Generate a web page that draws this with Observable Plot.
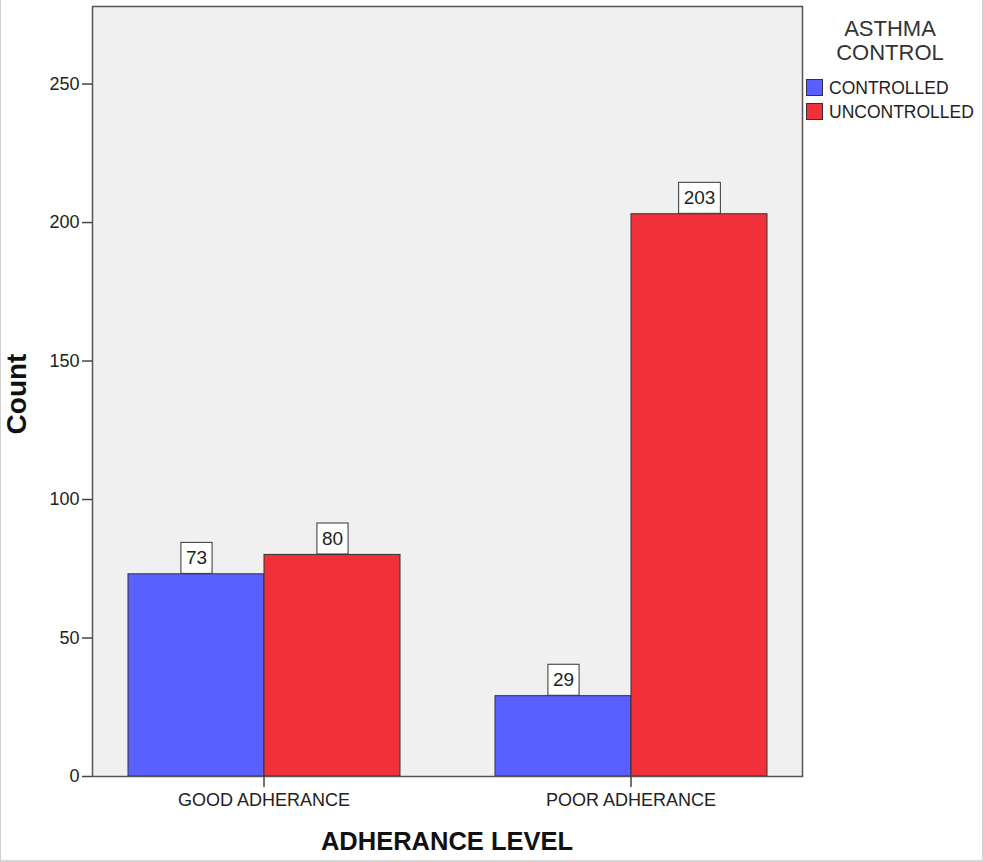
<!DOCTYPE html>
<html>
<head>
<meta charset="utf-8">
<script src="https://cdn.jsdelivr.net/npm/d3@7"></script>
<script src="https://cdn.jsdelivr.net/npm/@observablehq/plot@0.6"></script>
<style>
  html, body { margin: 0; padding: 0; background: #fff; overflow: hidden; }
  #wrap { position: relative; width: 983px; height: 862px; font-family: "Liberation Sans", Arial, sans-serif; color: #222; }
  #wrap svg { display: block; }
  .abs { position: absolute; white-space: nowrap; }
  #border { position: absolute; left: 0; top: 0; width: 983px; height: 862px; box-sizing: border-box;
            border-left: 1px solid #cfcfcf; border-right: 1px solid #cfcfcf; border-bottom: 2px solid #d6d6d6; pointer-events: none; }
</style>
</head>
<body>
<div id="wrap"></div>
<script>
// ---- data ----
const groups = ["GOOD ADHERANCE", "POOR ADHERANCE"];
const series = ["CONTROLLED", "UNCONTROLLED"];
const controlled = [73, 29];
const uncontrolled = [80, 203];
const colors = ["#5a5fff", "#f0313a"];
const yTicks = [0, 50, 100, 150, 200, 250];
const legendTitle = ["ASTHMA", "CONTROL"];
const xTitle = "ADHERANCE LEVEL";
const yTitle = "Count";

const data = groups.flatMap((g, i) => [
  {group: g, status: series[0], count: controlled[i]},
  {group: g, status: series[1], count: uncontrolled[i]}
]);

const chart = Plot.plot({
  width: 983,
  height: 862,
  marginLeft: 92,
  marginTop: 6,
  marginRight: 181,
  marginBottom: 86,
  style: {fontFamily: "'Liberation Sans', Arial, sans-serif", fontSize: "18px", color: "#222", background: "transparent"},
  fx: {domain: groups, paddingInner: 0.0654, paddingOuter: 0, label: null, axis: null},
  x: {domain: series, paddingInner: 0, paddingOuter: 0.2564, axis: null},
  y: {domain: [0, 278], axis: null},
  color: {domain: series, range: colors},
  marks: [
    Plot.frame({fill: "#f0f0f0", facet: "super"}),
    Plot.barY(data, {fx: "group", x: "status", y: "count", fill: "status", stroke: "#333", strokeWidth: 1}),
    Plot.frame({stroke: "#555", strokeWidth: 1.5, facet: "super"}),
    Plot.axisY({ticks: yTicks, tickSize: 10, tickPadding: 3, label: null, fontSize: 18, stroke: "#444", strokeWidth: 1.5}),
    Plot.axisFx({anchor: "bottom", tickSize: 11, tickPadding: 6, label: null, fontSize: 18, stroke: "#444", strokeWidth: 1.5}),
    Plot.text(data, {fx: "group", x: "status", y: "count", text: d => String(d.count), dy: -16, lineAnchor: "middle", fontSize: 19, fill: "#222"})
  ]
});

const wrap = document.getElementById("wrap");
wrap.appendChild(chart);

// white boxes behind the value labels
const svg = d3.select(chart);
svg.selectAll('g[aria-label="text"] text').each(function() {
  const bb = this.getBBox();
  const h = 31;
  const rect = document.createElementNS("http://www.w3.org/2000/svg", "rect");
  rect.setAttribute("x", bb.x - 5);
  rect.setAttribute("y", bb.y + bb.height / 2 - h / 2);
  rect.setAttribute("width", bb.width + 10);
  rect.setAttribute("height", h);
  rect.setAttribute("fill", "#fff");
  rect.setAttribute("stroke", "#333");
  rect.setAttribute("stroke-width", "1");
  const tr = this.getAttribute("transform");
  if (tr) rect.setAttribute("transform", tr);
  this.parentNode.insertBefore(rect, this);
});

// axis titles
const yt = document.createElement("div");
yt.className = "abs";
yt.textContent = yTitle;
Object.assign(yt.style, {left: "17px", top: "394px", transform: "translate(-50%,-50%) rotate(-90deg)", fontWeight: "bold", fontSize: "28px", color: "#111"});
wrap.appendChild(yt);

const xt = document.createElement("div");
xt.className = "abs";
xt.textContent = xTitle;
Object.assign(xt.style, {left: "447px", top: "841px", transform: "translate(-50%,-50%)", fontWeight: "bold", fontSize: "25.5px", color: "#111"});
wrap.appendChild(xt);

// legend
const lt = document.createElement("div");
lt.className = "abs";
Object.assign(lt.style, {left: "800px", top: "17px", width: "180px", textAlign: "center", fontSize: "22px", lineHeight: "24px", color: "#333"});
lt.innerHTML = legendTitle.join("<br>");
wrap.appendChild(lt);

series.forEach((s, i) => {
  const row = document.createElement("div");
  row.className = "abs";
  Object.assign(row.style, {left: "806px", top: (79 + i * 24) + "px", height: "17px", display: "flex", alignItems: "center"});
  const sw = document.createElement("span");
  Object.assign(sw.style, {display: "inline-block", width: "15px", height: "15px", background: colors[i], border: "1px solid #333"});
  const tx = document.createElement("span");
  tx.textContent = s;
  Object.assign(tx.style, {marginLeft: "6px", fontSize: "17.5px", color: "#222", position: "relative", top: "1px"});
  row.appendChild(sw);
  row.appendChild(tx);
  wrap.appendChild(row);
});

const border = document.createElement("div");
border.id = "border";
wrap.appendChild(border);
</script>
</body>
</html>
